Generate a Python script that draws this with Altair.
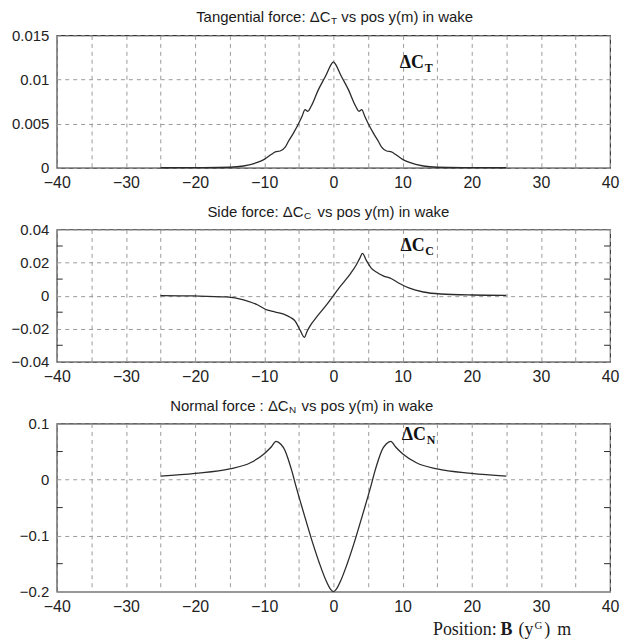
import altair as alt
import pandas as pd

# ---------------- data ----------------
t_x = [-25, -20, -15, -13, -11, -10, -9, -8.4, -7.7, -7, -6.5, -5.8, -5.1, -4.5, -4.1, -3.7, -3.2, -2.2, -1.0, -0.4, 0,
       0.4, 1.0, 2.2, 3.2, 3.7, 4.1, 4.5, 5.1, 5.8, 6.5, 7, 7.7, 8.4, 9, 10, 11, 13, 15, 20, 25]
t_y = [0.0, 0.00002, 0.00006, 0.0002, 0.0006, 0.00095, 0.0015, 0.0018, 0.0019, 0.0023, 0.0030, 0.0039, 0.0049, 0.0059,
       0.0066, 0.0064, 0.0070, 0.0088, 0.0106, 0.0116, 0.0120,
       0.0116, 0.0106, 0.0088, 0.0070, 0.0064, 0.0066, 0.0059, 0.0049, 0.0039, 0.0030, 0.0023, 0.0019, 0.0018, 0.0015,
       0.00095, 0.0006, 0.0002, 0.00006, 0.00002, 0.0]

c_x = [-25, -20, -15.5, -13, -11, -9.5, -8.4, -7.2, -6.2, -5.5, -4.8, -4.2, -3.8, -3.3, -2.5, -1.7, -0.8, 0,
       0.8, 1.7, 2.5, 3.3, 3.8, 4.2, 4.8, 5.5, 6.2, 7.2, 8.4, 9.5, 11, 13, 15.5, 20, 25]
c_y = [0.0, -0.0002, -0.0008, -0.0025, -0.0055, -0.0088, -0.0099, -0.0112, -0.0132, -0.0155, -0.0210, -0.0252,
       -0.0215, -0.0178, -0.0133, -0.0092, -0.0045, 0.0,
       0.0045, 0.0092, 0.0135, 0.0185, 0.0225, 0.0255, 0.0210, 0.0165, 0.0143, 0.0120, 0.0102, 0.0075, 0.0045,
       0.0022, 0.0010, 0.0004, 0.0002]

n_x = [-25, -20, -15, -12, -10, -9, -8.3, -7.6, -7, -6.5, -6, -5.5, -5, -4, -3, -2, -1, -0.4, 0,
       0.4, 1, 2, 3, 4, 5, 5.5, 6, 6.5, 7, 7.6, 8.3, 9, 10, 12, 15, 20, 25]
n_y = [0.006, 0.011, 0.019, 0.030, 0.046, 0.058, 0.068, 0.063, 0.052, 0.035, 0.015, -0.008, -0.030, -0.072, -0.113,
       -0.150, -0.182, -0.196, -0.200,
       -0.196, -0.182, -0.150, -0.113, -0.072, -0.030, -0.008, 0.015, 0.035, 0.052, 0.063, 0.068, 0.058, 0.046,
       0.030, 0.019, 0.011, 0.006]

x_grid_vals = [-40, -35, -30, -25, -20, -15, -10, -5, 0, 5, 10, 15, 20, 25, 30, 35, 40]
t_ticks = [0, 0.005, 0.01, 0.015]
c_ticks = [-0.04, -0.02, 0, 0.02, 0.04]
n_ticks = [-0.2, -0.1, 0, 0.1]
c_minor = [-0.03, -0.01, 0.01, 0.03]
n_minor = [-0.15, -0.05, 0.05]

W = 556
SANS = "Liberation Sans"
SERIF = "Liberation Serif"
LINE = "#2b2b2b"
ONE = pd.DataFrame({"k": [0]})


def txt(s, x, y, size, font=SANS, weight="normal", align="left", dy=0):
    return alt.Chart(ONE).mark_text(text=s, font=font, fontSize=size, fontWeight=weight, align=align,
                                    baseline="middle", dy=dy, color="#1a1a1a").encode(
        x=alt.value(x), y=alt.value(y))


def panel(xs, ys, yticks, ydom, H, tleft, tsub, tright, pivot, rest, sub, ax, ay, minor=None, extra=None):
    df = pd.DataFrame({"x": xs, "y": ys})
    X = alt.X("x:Q", title=None, scale=alt.Scale(domain=[-40, 40], nice=False, zero=False),
              axis=alt.Axis(values=x_grid_vals, labelOverlap=False,
                            labelExpr="abs(datum.value % 10) < 0.001 ? format(datum.value, 'd') : ''"))
    Y = alt.Y("y:Q", title=None, scale=alt.Scale(domain=ydom, nice=False, zero=False),
              axis=alt.Axis(values=yticks, labelOverlap=False, labelExpr="format(datum.value, '~g')"))
    line = alt.Chart(df).mark_line(color=LINE, strokeWidth=1.3, interpolate="monotone").encode(x=X, y=Y)
    layers = [line]
    if minor:
        md = pd.DataFrame({"y": minor})
        layers.append(alt.Chart(md).mark_rule(color=LINE, strokeWidth=1).encode(
            y=Y, x=alt.value(0), x2=alt.value(6)))
        layers.append(alt.Chart(md).mark_rule(color=LINE, strokeWidth=1).encode(
            y=Y, x=alt.value(W - 6), x2=alt.value(W)))
    ad = pd.DataFrame({"x": [ax], "y": [ay]})
    layers.append(alt.Chart(ad).mark_text(text="ΔC", font=SERIF, fontSize=18, fontWeight="bold", align="left",
                                          baseline="middle", color="#111").encode(x=X, y=Y))
    layers.append(alt.Chart(ad).mark_text(text=sub, font=SERIF, fontSize=12, fontWeight="bold", align="left",
                                          baseline="middle", dx=25, dy=5, color="#111").encode(x=X, y=Y))
    layers.append(txt(tleft, pivot, -18, 15, align="right"))
    layers.append(txt(tsub, pivot + 0.5, -18, 10, dy=4))
    layers.append(txt(tright, rest, -18, 15))
    if extra:
        layers += extra
    return alt.layer(*layers).properties(width=W, height=H)


p1 = panel(t_x, t_y, t_ticks, [0, 0.015], 133,
           "Tangential force:  ΔC", "T", "vs pos y(m) in wake", 275, 286, "T", 9.6, 0.0119)
p2 = panel(c_x, c_y, c_ticks, [-0.04, 0.04], 133,
           "Side force: ΔC", "C", "vs pos y(m) in wake", 248, 262, "C", 9.7, 0.030, minor=c_minor)

PY = 208
pos = [
    txt("Position:", 378, PY, 18, font=SERIF),
    txt("B", 446, PY, 18, font=SERIF, weight="bold"),
    txt("(y", 464, PY, 18, font=SERIF),
    txt("G", 480, PY, 11, font=SERIF, dy=-5),
    txt(")", 490, PY, 18, font=SERIF),
    txt("m", 503, PY, 18, font=SERIF),
]
p3 = panel(n_x, n_y, n_ticks, [-0.2, 0.1], 169,
           "Normal force : ΔC", "N", "vs pos y(m) in wake", 233, 246, "N", 9.9, 0.080, minor=n_minor, extra=pos)

chart = alt.vconcat(p1, p2, p3, spacing=62, bounds="flush").properties(
    padding={"left": 2, "top": 0, "right": 0, "bottom": 0},
    background="white",
).configure_view(stroke="#333", strokeWidth=1.2).configure_axis(
    grid=True, gridColor="#9a9a9a", gridDash=[4, 4], gridWidth=1, domain=False, ticks=False,
    labelFont=SANS, labelFontSize=16, labelColor="#222", labelFlush=False, labelOverlap=False,
).configure_axisX(labelPadding=7).configure_axisY(labelPadding=8, labelFontSize=15)

chart.save("out.html", embed_options={"renderer": "svg", "actions": False})
